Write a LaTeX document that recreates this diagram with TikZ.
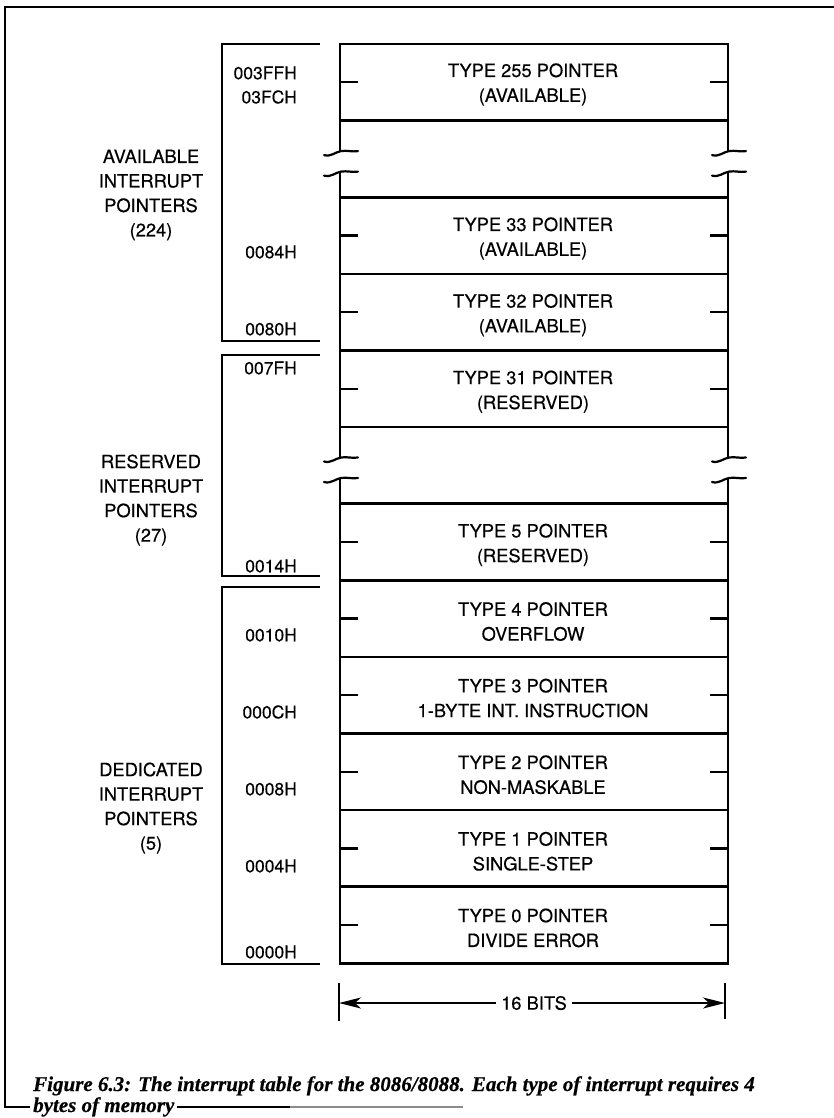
\documentclass[tikz,border=0pt]{standalone}
\usepackage{fontspec}
\setmainfont{TeX Gyre Heros}
\newfontfamily\labfont{TeX Gyre Heros}[FakeBold=0.4]
\newfontfamily\capfont{Liberation Serif}[FakeBold=0.5]
\usetikzlibrary{arrows.meta}

\tikzset{
  tbl/.style={line width=2.6pt},
  tickmark/.style={line width=2.4pt},
  brk/.style={line width=2.2pt, line cap=round},
  bracket/.style={line width=2pt},
  frameline/.style={line width=1.8pt},
  lbl/.style={font=\labfont\fontsize{18.3}{24.8}\selectfont, align=center, inner sep=0pt},
  grp/.style={font=\labfont\fontsize{18.3}{24.5}\selectfont, align=center, inner sep=0pt},
  addr/.style={font=\labfont\fontsize{17.5}{20}\selectfont, anchor=east, inner sep=0pt},
  captext/.style={font=\capfont\bfseries\itshape\fontsize{21}{24}\selectfont, anchor=base west},
  wave/.pic={\draw[brk] (-16,3) .. controls (-9,5) and (-5,0) .. (1,-1)
                         .. controls (7,-2) and (12,0) .. (18,-1);},
}

\begin{document}
\begin{tikzpicture}[x=1pt,y=-1pt]
\useasboundingbox (0,0) rectangle (834,1118);
\clip (0,0) rectangle (834,1118);

% outer frame
\draw[frameline] (834,7) -- (5,7) -- (5,1107) -- (30,1107);

% table outline, broken at the two gap rows
\draw[tbl] (340,152.1) -- (340,44) -- (728,44) -- (728,152.1);
\draw[tbl] (340,172.6) -- (340,458.5);
\draw[tbl] (728,172.6) -- (728,458.5);
\draw[tbl] (340,479) -- (340,963.2) -- (728,963.2) -- (728,479);
\foreach \y in {120.6,197.2,273.8,350.4,427,503.6,580.2,656.8,733.4,810,886.6}
  \draw[tbl] (340,\y) -- (728,\y);

% break marks
\foreach \y in {152.1,172.6,458.5,479}{
  \pic at (340,\y) {wave};
  \pic at (728,\y) {wave};
}

% byte ticks at the middle of each pointer row
\foreach \y in {82.3,235.5,312.1,388.7,541.9,618.5,695.1,771.7,848.3,924.9}{
  \draw[tickmark] (340,\y) -- (358,\y);
  \draw[tickmark] (710,\y) -- (728,\y);
}

% pointer rows
\node[lbl] (t255) at (533,84.5)  {TYPE 255 POINTER\\(AVAILABLE)};
\node[lbl] (t33)  at (533,238.5) {TYPE 33 POINTER\\(AVAILABLE)};
\node[lbl] (t32)  at (533,315.1) {TYPE 32 POINTER\\(AVAILABLE)};
\node[lbl] (t31)  at (533,391.7) {TYPE 31 POINTER\\(RESERVED)};
\node[lbl] (t5)   at (533,544.9) {TYPE 5 POINTER\\(RESERVED)};
\node[lbl] (t4)   at (533,621.5) {TYPE 4 POINTER\\OVERFLOW};
\node[lbl] (t3)   at (533,698.1) {TYPE 3 POINTER\\1-BYTE INT. INSTRUCTION};
\node[lbl] (t2)   at (533,774.7) {TYPE 2 POINTER\\NON-MASKABLE};
\node[lbl] (t1)   at (533,851.3) {TYPE 1 POINTER\\SINGLE-STEP};
\node[lbl] (t0)   at (533,927.9) {TYPE 0 POINTER\\DIVIDE ERROR};

% group brackets
\draw[bracket] (320,44)  -- (222,44)  -- (222,341) -- (320,341);
\draw[bracket] (320,355) -- (222,355) -- (222,576) -- (320,576);
\draw[bracket] (320,587) -- (222,587) -- (222,964) -- (320,964);

% group labels
\node[grp] (gavail) at (151,195) {AVAILABLE\\INTERRUPT\\POINTERS\\(224)};
\node[grp] (gres)   at (151,500) {RESERVED\\INTERRUPT\\POINTERS\\(27)};
\node[grp] (gded)   at (151,808) {DEDICATED\\INTERRUPT\\POINTERS\\(5)};

% addresses
\node[addr] (a3ff) at (297,73)  {003FFH};
\node[addr] (a3fc) at (297,97)  {03FCH};
\node[addr] (a84)  at (297,252) {0084H};
\node[addr] (a80)  at (297,329) {0080H};
\node[addr] (a7f)  at (297,368) {007FH};
\node[addr] (a14)  at (297,566) {0014H};
\node[addr] (a10)  at (297,635) {0010H};
\node[addr] (a0c)  at (297,712) {000CH};
\node[addr] (a08)  at (297,789) {0008H};
\node[addr] (a04)  at (297,866) {0004H};
\node[addr] (a00)  at (297,952) {0000H};

% width dimension
\coordinate (bl) at (339,1003);
\coordinate (br) at (725,1003);
\node[lbl] (bits) at (534,1003) {16 BITS};
\draw[bracket] ([yshift=20pt]bl) -- ([yshift=-18pt]bl);
\draw[bracket] ([yshift=20pt]br) -- ([yshift=-16pt]br);
\draw[line width=1.6pt, -{Stealth[length=22pt,width=11pt,inset=6pt]}] ([xshift=-5pt]bits.west) -- (bl);
\draw[line width=1.6pt, -{Stealth[length=22pt,width=11pt,inset=6pt]}] ([xshift=5pt]bits.east) -- (br);

% caption
\node[captext, inner sep=0pt] (cap1) at (33,1091)
  {Figure 6.3: The interrupt table for the 8086/8088. Each type of interrupt requires 4};
\node[captext, inner xsep=2pt, inner ysep=0pt, fill=white] (cap2) at (31,1112) {bytes of memory};
\draw[frameline] (cap2.east |- 0,1107) -- (290,1107);
\draw[frameline, black!45] (290,1107) -- (463,1107);
\end{tikzpicture}
\end{document}
